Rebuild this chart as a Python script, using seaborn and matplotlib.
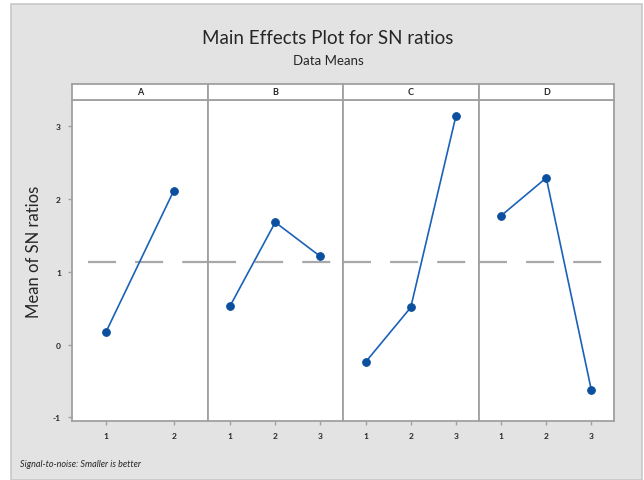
import matplotlib
matplotlib.use('Agg')
import matplotlib.pyplot as plt
from matplotlib.patches import Rectangle
import seaborn as sns
import pandas as pd

# factor levels and mean SN ratios
factors = ['A', 'B', 'C', 'D']
levels_A = [1, 2]
levels_BCD = [1, 2, 3]
sn_A = [0.17, 2.11]
sn_B = [0.53, 1.68, 1.21]
sn_C = [-0.24, 0.51, 3.14]
sn_D = [1.77, 2.29, -0.63]
mean_sn = 1.13
yticks = [-1, 0, 1, 2, 3]

data = pd.concat([
    pd.DataFrame({'factor': 'A', 'level': levels_A, 'sn': sn_A}),
    pd.DataFrame({'factor': 'B', 'level': levels_BCD, 'sn': sn_B}),
    pd.DataFrame({'factor': 'C', 'level': levels_BCD, 'sn': sn_C}),
    pd.DataFrame({'factor': 'D', 'level': levels_BCD, 'sn': sn_D}),
])

sns.set_style('white')
plt.rcParams['font.family'] = ['Lato', 'DejaVu Sans']

W, H = 644, 481
fig = plt.figure(figsize=(W / 100, H / 100), dpi=100)
fig.patch.set_facecolor('white')

# grey backdrop like the Minitab graph window
fig.patches.append(Rectangle((11 / W, 0), (642 - 11) / W, 1 - 5 / H,
                             transform=fig.transFigure, facecolor='#e3e3e3',
                             edgecolor='#c8c8c8', linewidth=1.2, zorder=-10))

left, right = 72 / W, 614 / W
bottom, top = 1 - 422 / H, 1 - 101 / H
head_h = 16 / H
pw = (right - left) / 4
spine_c = '#a0a0a0'
line_c = '#1a62b8'
mark_c = '#0b4f9e'
dash_offsets = [14, 0, 0, 0]

axes = []
for i, f in enumerate(factors):
    ax = fig.add_axes([left + i * pw, bottom, pw, top - bottom])
    sub = data[data['factor'] == f]
    ax.axhline(mean_sn, color='#a8a8a8', linewidth=1.6,
               linestyle=(dash_offsets[i], (12.6, 8.6)), zorder=1)
    sns.lineplot(data=sub, x='level', y='sn', ax=ax, color=line_c, linewidth=1.2,
                 marker='o', markersize=5.5, markerfacecolor=mark_c,
                 markeredgecolor=mark_c, zorder=3)
    n = sub['level'].nunique()
    ax.set_xlim(0.5, n + 0.5)
    ax.set_ylim(-1.05, 3.36)
    ax.set_xticks(sub['level'].tolist())
    ax.set_xticklabels([str(v) for v in sub['level']], fontsize=6, fontweight='bold')
    ax.set_xlabel('')
    ax.set_ylabel('')
    ax.tick_params(axis='both', length=3, width=1, color=spine_c, pad=5, direction='out')
    ax.tick_params(axis='x', bottom=True)
    if i == 0:
        ax.set_yticks(yticks)
        ax.set_yticklabels([str(v) for v in yticks], fontsize=6, fontweight='bold')
        ax.tick_params(axis='y', left=True)
    else:
        ax.set_yticks([])
    for s in ax.spines.values():
        s.set_color(spine_c)
        s.set_linewidth(1.3)
    ax.set_facecolor('white')

    # facet header strip
    hx = fig.add_axes([left + i * pw, top, pw, head_h])
    hx.set_facecolor('white')
    hx.set_xticks([])
    hx.set_yticks([])
    for s in hx.spines.values():
        s.set_color(spine_c)
        s.set_linewidth(1.3)
    hx.text(0.5, 0.5, f, ha='center', va='center', fontsize=6.5, fontweight='bold',
            transform=hx.transAxes)
    axes.append(ax)

fig.text(328 / W, 1 - 38 / H, 'Main Effects Plot for SN ratios', ha='center',
         va='center', fontsize=13.5)
fig.text(328 / W, 1 - 61 / H, 'Data Means', ha='center', va='center', fontsize=9.5)
fig.text(34 / W, 1 - 252 / H, 'Mean of SN ratios', rotation=90, ha='center',
         va='center', fontsize=12)
fig.text(20 / W, 1 - 465 / H, 'Signal-to-noise: Smaller is better', ha='left',
         va='center', fontsize=6.5, style='italic')

fig.savefig('out.png', dpi=100)
